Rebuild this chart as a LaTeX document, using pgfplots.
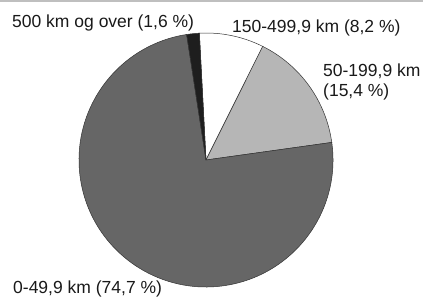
\documentclass[border=0pt]{standalone}
\usepackage{pgfplots}
\pgfplotsset{compat=1.18}
\usepackage{pgfplotstable}
\usepackage{fontspec}
\setmainfont{Liberation Sans}
\definecolor{pdark}{RGB}{102,102,102}
\definecolor{plight}{RGB}{182,182,182}
\definecolor{pblack}{RGB}{30,30,30}
\definecolor{ptext}{RGB}{25,25,25}
\pgfplotstableread{
share
8.2
15.4
74.7
1.6
}\piedata
\begin{document}
\begin{tikzpicture}
\pgfplotstablegetelem{0}{share}\of\piedata\let\va\pgfplotsretval
\pgfplotstablegetelem{1}{share}\of\piedata\let\vb\pgfplotsretval
\pgfplotstablegetelem{2}{share}\of\piedata\let\vc\pgfplotsretval
\pgfplotstablegetelem{3}{share}\of\piedata\let\vd\pgfplotsretval
\pgfmathsetmacro{\tot}{\va+\vb+\vc+\vd}
\pgfmathsetmacro{\aA}{93}
\pgfmathsetmacro{\aB}{\aA-(\va/\tot)*360}
\pgfmathsetmacro{\aC}{\aB-(\vb/\tot)*360}
\pgfmathsetmacro{\aD}{\aC-(\vc/\tot)*360}
\pgfmathsetmacro{\aE}{\aD-(\vd/\tot)*360}
\begin{axis}[scale only axis, width=423pt, height=305pt,
  xmin=0, xmax=423, ymin=0, ymax=305, hide axis, clip=false]
\path (axis cs:0,0) rectangle (axis cs:423,305);
\fill[black!25] (axis cs:0,302.5) rectangle (axis cs:423,305);
\def\cx{206}\def\cy{145}
\filldraw[fill=white, draw=black!80, line width=0.5pt] (axis cs:\cx,\cy) -- +(\aA:127pt) arc[start angle=\aA, end angle=\aB, radius=127pt] -- cycle;
\filldraw[fill=plight, draw=black!80, line width=0.5pt] (axis cs:\cx,\cy) -- +(\aB:127pt) arc[start angle=\aB, end angle=\aC, radius=127pt] -- cycle;
\filldraw[fill=pdark, draw=black!80, line width=0.5pt] (axis cs:\cx,\cy) -- +(\aC:127pt) arc[start angle=\aC, end angle=\aD, radius=127pt] -- cycle;
\filldraw[fill=pblack, draw=black!80, line width=0.5pt] (axis cs:\cx,\cy) -- +(\aD:127pt) arc[start angle=\aD, end angle=\aE, radius=127pt] -- cycle;
\begin{scope}[every node/.style={font=\fontsize{17.5}{20}\selectfont, text=ptext, inner sep=0pt, anchor=west}]
\node at (axis cs:12,282) {500 km og over (1,6 \%)};
\node at (axis cs:232,277) {150-499,9 km (8,2 \%)};
\node at (axis cs:323,234) {50-199,9 km};
\node at (axis cs:323,213) {(15,4 \%)};
\node at (axis cs:13,16) {0-49,9 km (74,7 \%)};
\end{scope}
\end{axis}
\end{tikzpicture}
\end{document}
